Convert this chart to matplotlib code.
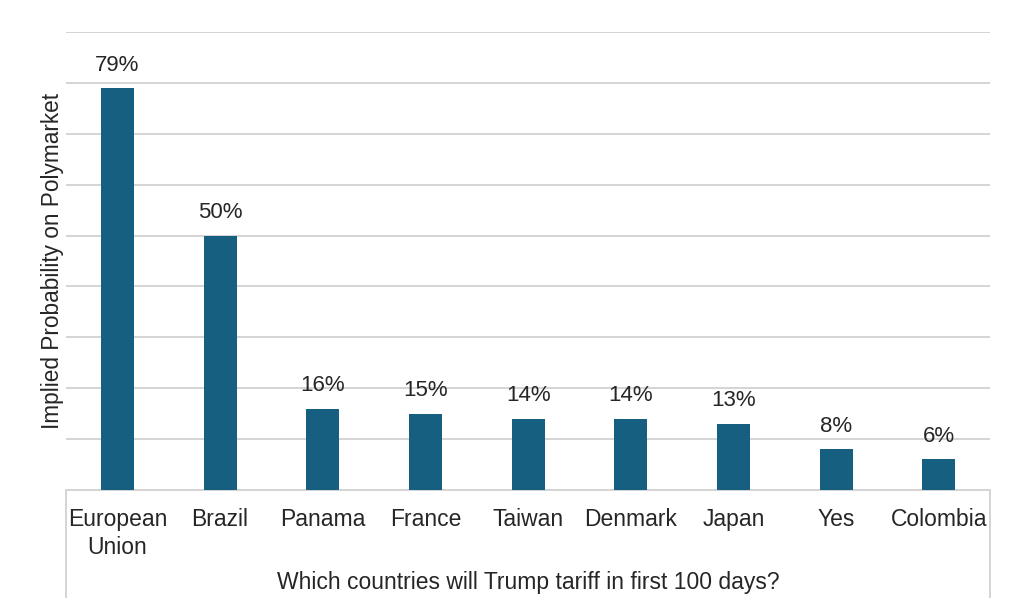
import matplotlib.pyplot as plt
from matplotlib.lines import Line2D

plt.rcParams['font.family'] = ['Liberation Sans', 'DejaVu Sans']

categories = ["European\nUnion", "Brazil", "Panama", "France", "Taiwan",
              "Denmark", "Japan", "Yes", "Colombia"]
values = [79, 50, 16, 15, 14, 14, 13, 8, 6]
value_labels = ["79%", "50%", "16%", "15%", "14%", "14%", "13%", "8%", "6%"]

BAR_COLOR = "#175f80"
GRID_COLOR = "#d4d4d4"
TEXT_COLOR = "#262626"


def make_chart():
    fig = plt.figure(figsize=(10.24, 6.16), dpi=100)
    ax = fig.add_axes([0.0645, 0.2045, 0.9025, 0.7435])

    x = list(range(len(categories)))
    ax.bar(x, values, width=0.32, color=BAR_COLOR, zorder=3)

    for xi, v, lab in zip(x, values, value_labels):
        ax.annotate(lab, (xi, v), xytext=(0, 9), textcoords="offset points",
                    ha="center", va="bottom", fontsize=16, color=TEXT_COLOR)

    ax.set_xlim(-0.5, len(categories) - 0.5)
    ax.set_ylim(0, 90)
    ax.set_yticks(range(0, 91, 10))
    ax.set_yticklabels([])
    ax.tick_params(axis="y", length=0)
    ax.yaxis.grid(True, color=GRID_COLOR, lw=1.4, zorder=0)

    ax.set_xticks(x)
    ax.set_xticklabels(categories, fontsize=16.5, color=TEXT_COLOR,
                       linespacing=1.3)
    ax.tick_params(axis="x", length=0, pad=13)

    for s in ["top", "right", "left"]:
        ax.spines[s].set_visible(False)
    ax.spines["bottom"].set_color(GRID_COLOR)
    ax.spines["bottom"].set_linewidth(1.4)

    ax.set_ylabel("Implied Probability on Polymarket", fontsize=16.3,
                  color=TEXT_COLOR, labelpad=-2)

    # category table borders below the axis
    for xf in (0.0645, 0.967):
        fig.add_artist(Line2D([xf, xf], [0.031, 0.2045], color=GRID_COLOR,
                              lw=1.4))

    fig.text(0.5155, 0.055, "Which countries will Trump tariff in first 100 days?",
             ha="center", va="center", fontsize=16.5, color=TEXT_COLOR)

    fig.savefig("out.png", dpi=100, facecolor="white")


if __name__ == "__main__":
    make_chart()
